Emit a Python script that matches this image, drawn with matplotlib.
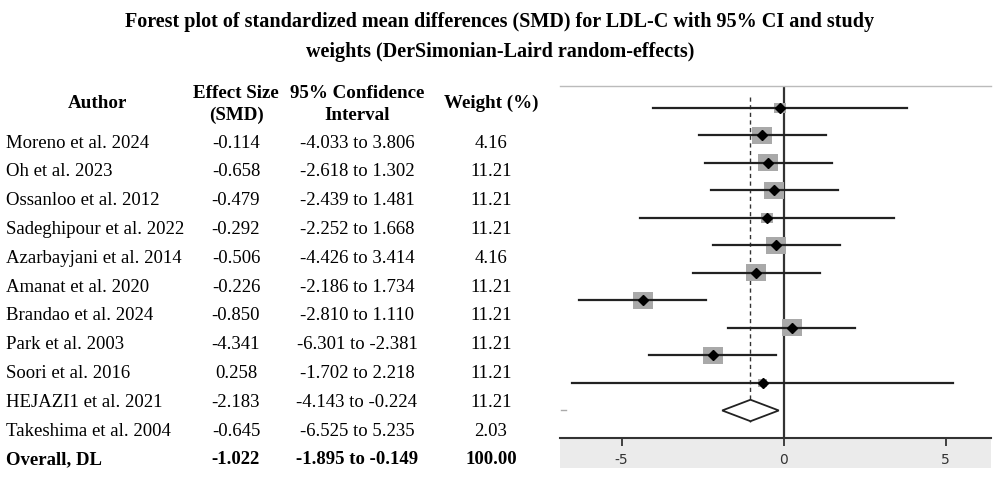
import matplotlib
matplotlib.use("Agg")
import matplotlib.pyplot as plt
from matplotlib.patches import Rectangle, Polygon
import numpy as np

authors = ["Moreno et al. 2024", "Oh et al. 2023", "Ossanloo et al. 2012",
           "Sadeghipour et al. 2022", "Azarbayjani et al. 2014", "Amanat et al. 2020",
           "Brandao et al. 2024", "Park et al. 2003", "Soori et al. 2016",
           "HEJAZI1 et al. 2021", "Takeshima et al. 2004"]
smd = [-0.114, -0.658, -0.479, -0.292, -0.506, -0.226, -0.850, -4.341, 0.258, -2.183, -0.645]
ci_low = [-4.033, -2.618, -2.439, -2.252, -4.426, -2.186, -2.810, -6.301, -1.702, -4.143, -6.525]
ci_high = [3.806, 1.302, 1.481, 1.668, 3.414, 1.734, 1.110, -2.381, 2.218, -0.224, 5.235]
weights = [4.16, 11.21, 11.21, 11.21, 4.16, 11.21, 11.21, 11.21, 11.21, 11.21, 2.03]
overall_label = "Overall, DL"
overall_smd = -1.022
overall_low = -1.895
overall_high = -0.149
overall_weight = 100.00
xticks = [-5, 0, 5]

W, H = 1000, 480
fig = plt.figure(figsize=(10, 4.8), dpi=100)
plt.rcParams['font.family'] = ['Liberation Serif', 'DejaVu Serif']

def fx(x):
    return x / W

def fy(y):
    return 1 - y / H

# Title
fig.text(0.5, fy(22), "Forest plot of standardized mean differences (SMD) for LDL-C with 95% CI and study",
         ha='center', va='center', fontsize=14.5, fontweight='bold')
fig.text(0.5, fy(52), "weights (DerSimonian-Laird random-effects)",
         ha='center', va='center', fontsize=14.5, fontweight='bold')

col_es, col_ci, col_w = 236, 357, 491

# Table headers
hfs = 13.7
fig.text(fx(97), fy(103), "Author", ha='center', va='center', fontsize=hfs, fontweight='bold')
fig.text(fx(col_es), fy(93), "Effect Size", ha='center', va='center', fontsize=hfs, fontweight='bold')
fig.text(fx(col_es), fy(115), "(SMD)", ha='center', va='center', fontsize=hfs, fontweight='bold')
fig.text(fx(col_ci), fy(93), "95% Confidence", ha='center', va='center', fontsize=hfs, fontweight='bold')
fig.text(fx(col_ci), fy(115), "Interval", ha='center', va='center', fontsize=hfs, fontweight='bold')
fig.text(fx(col_w), fy(103), "Weight (%)", ha='center', va='center', fontsize=hfs, fontweight='bold')

tfs = 13.5
row0 = 143
rstep = (460 - 143) / 11
for i, a in enumerate(authors):
    y = fy(row0 + i * rstep)
    fig.text(fx(6), y, a, ha='left', va='center', fontsize=tfs)
    fig.text(fx(col_es), y, f"{smd[i]:.3f}", ha='center', va='center', fontsize=tfs)
    fig.text(fx(col_ci), y, f"{ci_low[i]:.3f} to {ci_high[i]:.3f}", ha='center', va='center', fontsize=tfs)
    fig.text(fx(col_w), y, f"{weights[i]:.2f}", ha='center', va='center', fontsize=tfs)
y = fy(row0 + 11 * rstep)
fig.text(fx(6), y, overall_label, ha='left', va='center', fontsize=tfs, fontweight='bold')
fig.text(fx(col_es), y, f"{overall_smd:.3f}", ha='center', va='center', fontsize=tfs, fontweight='bold')
fig.text(fx(col_ci), y, f"{overall_low:.3f} to {overall_high:.3f}", ha='center', va='center', fontsize=tfs, fontweight='bold')
fig.text(fx(col_w), y, f"{overall_weight:.2f}", ha='center', va='center', fontsize=tfs, fontweight='bold')

# Gray band under x axis
fig.patches.append(Rectangle((fx(560), fy(468)), fx(431), (468 - 438) / H,
                             transform=fig.transFigure, facecolor='#ebebeb', edgecolor='none', zorder=-5))

# Plot axes
ax = fig.add_axes([fx(560), fy(438), fx(431), (438 - 86) / H])
ax.set_zorder(2)
ax.set_facecolor('none')
ax.set_xlim(-6.9, 6.4)
n = len(authors)
ax.set_ylim(12.0, -0.79)

ax.axvline(0, color='#333333', lw=1.6, zorder=1)
ax.plot([overall_smd, overall_smd], [-0.4, 11.45], color='#333333', lw=1.0, ls=(0, (3, 2.5)), zorder=1)

px_x = 32.4   # pixels per x unit
px_y = 27.5   # pixels per row
maxw = max(weights)
for i in range(n):
    ax.plot([ci_low[i], ci_high[i]], [i, i], color='#222222', lw=1.6, zorder=3)
    s = np.sqrt(weights[i] / maxw)
    hx = 20 * s / 2 / px_x
    hy = 17 * s / 2 / px_y
    ax.add_patch(Rectangle((smd[i] - hx, i - hy), 2 * hx, 2 * hy, facecolor='#a9a9a9',
                           edgecolor='none', zorder=2))
    ax.plot(smd[i], i, marker='D', ms=5, color='black', zorder=4)

dy = 11
diamond = Polygon([[overall_low, dy], [overall_smd, dy - 0.39], [overall_high, dy], [overall_smd, dy + 0.39]],
                  closed=True, facecolor='white', edgecolor='#222222', lw=1.3, zorder=3)
ax.add_patch(diamond)
# faint mark at left of the pooled row
ax.plot([-6.86, -6.7], [dy, dy], color='#aaaaaa', lw=1.0, zorder=1)

for sp in ['left', 'right']:
    ax.spines[sp].set_visible(False)
ax.spines['top'].set_color('#bbbbbb')
ax.spines['top'].set_linewidth(1.0)
ax.spines['bottom'].set_color('#333333')
ax.spines['bottom'].set_linewidth(1.5)
ax.set_yticks([])
ax.set_xticks(xticks)
ax.set_xticklabels([str(t) for t in xticks], fontfamily='DejaVu Sans', fontsize=10, color='#333333')
ax.tick_params(axis='x', length=6, width=1.3, color='#333333', pad=5)

fig.savefig("out.png", dpi=100)
